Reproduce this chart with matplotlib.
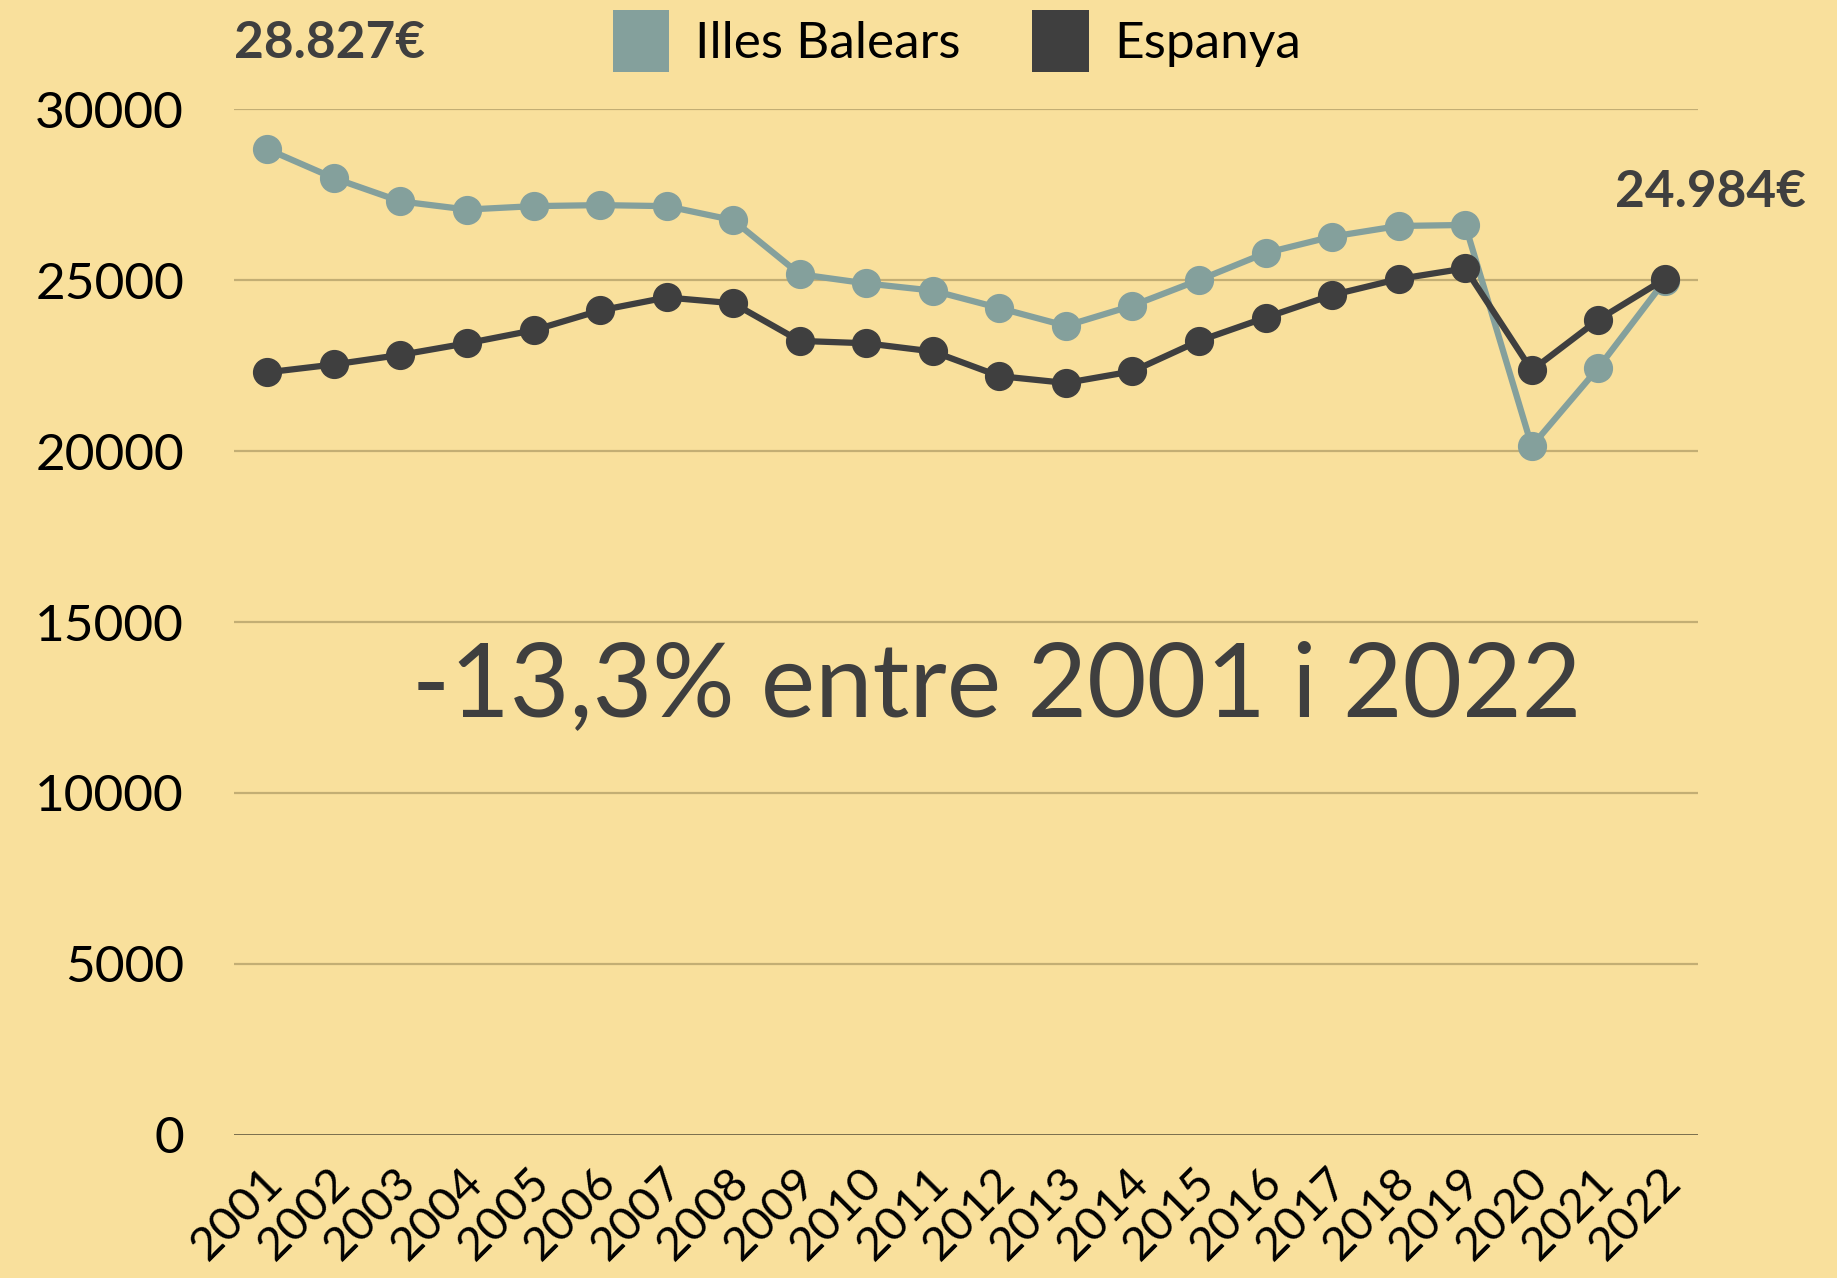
import matplotlib
matplotlib.use("Agg")
import matplotlib.pyplot as plt
import matplotlib.transforms as mtransforms
from matplotlib.patches import Patch

# data
years = list(range(2001, 2023))
balears = [28827, 27980, 27300, 27060, 27160, 27190, 27160, 26750, 25170, 24900,
           24690, 24180, 23660, 24250, 25000, 25790, 26270, 26580, 26610, 20140,
           22430, 24984]
espanya = [22300, 22530, 22810, 23150, 23530, 24110, 24490, 24320, 23220, 23150,
           22910, 22190, 21990, 22330, 23220, 23900, 24560, 25030, 25340, 22360,
           23840, 25030]
yticks = [0, 5000, 10000, 15000, 20000, 25000, 30000]
labels = ["Illes Balears", "Espanya"]
note_start = "28.827€"
note_end = "24.984€"
center_note = "-13,3% entre 2001 i 2022"

bg = "#F9E09C"
teal = "#84A09C"
dark = "#3F3F3F"
grid_col = "#C3AE74"

plt.rcParams['font.family'] = ['Lato', 'DejaVu Sans']

fig = plt.figure(figsize=(18.37, 12.78), dpi=100, facecolor=bg)
ax = fig.add_axes([0.1274, 0.1119, 0.797, 0.8028])
ax.set_facecolor(bg)

ax.plot(years, balears, color=teal, lw=4.5, marker='o', ms=20, clip_on=False, zorder=3)
ax.plot(years, espanya, color=dark, lw=4.5, marker='o', ms=20, clip_on=False, zorder=4)

ax.set_xlim(2000.5, 2022.5)
ax.set_ylim(0, 30000)
ax.set_yticks(yticks)
ax.set_yticklabels([str(v) for v in yticks], fontsize=37, color='black')
ax.set_xticks(years)
ax.set_xticklabels([str(y) for y in years], fontsize=34, color='black',
                   rotation=45, ha='right', va='top')
ax.tick_params(axis='y', length=0, pad=36)
ax.tick_params(axis='x', length=0, pad=18)
shift = mtransforms.ScaledTranslation(24 / 100, 0, fig.dpi_scale_trans)
for lab in ax.get_xticklabels():
    lab.set_transform(lab.get_transform() + shift)

for v in yticks[1:]:
    ax.axhline(v, color=grid_col, lw=1.6, zorder=1)
ax.axhline(0, color="#6E6446", lw=2, zorder=1)
for s in ax.spines.values():
    s.set_visible(False)

ax.annotate(note_start, xy=(years[0], balears[0]), xytext=(-33, 106),
            textcoords='offset pixels', ha='left', va='center',
            fontsize=37, fontweight='bold', color=dark)
ax.annotate(note_end, xy=(years[-1], balears[-1]), xytext=(46, 88),
            textcoords='offset pixels', ha='center', va='center',
            fontsize=37, fontweight='bold', color=dark, annotation_clip=False)

ax.text(0.521, 0.4366, center_note, transform=ax.transAxes, ha='center', va='center',
        fontsize=74, color=dark, fontweight='normal')

handles = [Patch(facecolor=teal, edgecolor='none'), Patch(facecolor=dark, edgecolor='none')]
fig.legend(handles, labels, loc='center', bbox_to_anchor=(0.521, 0.968), ncol=2,
           frameon=False, fontsize=37, handlelength=1.1, handleheight=1.5,
           handletextpad=0.5, columnspacing=1.4, borderaxespad=0)

fig.savefig("out.png", dpi=100, facecolor=bg)
